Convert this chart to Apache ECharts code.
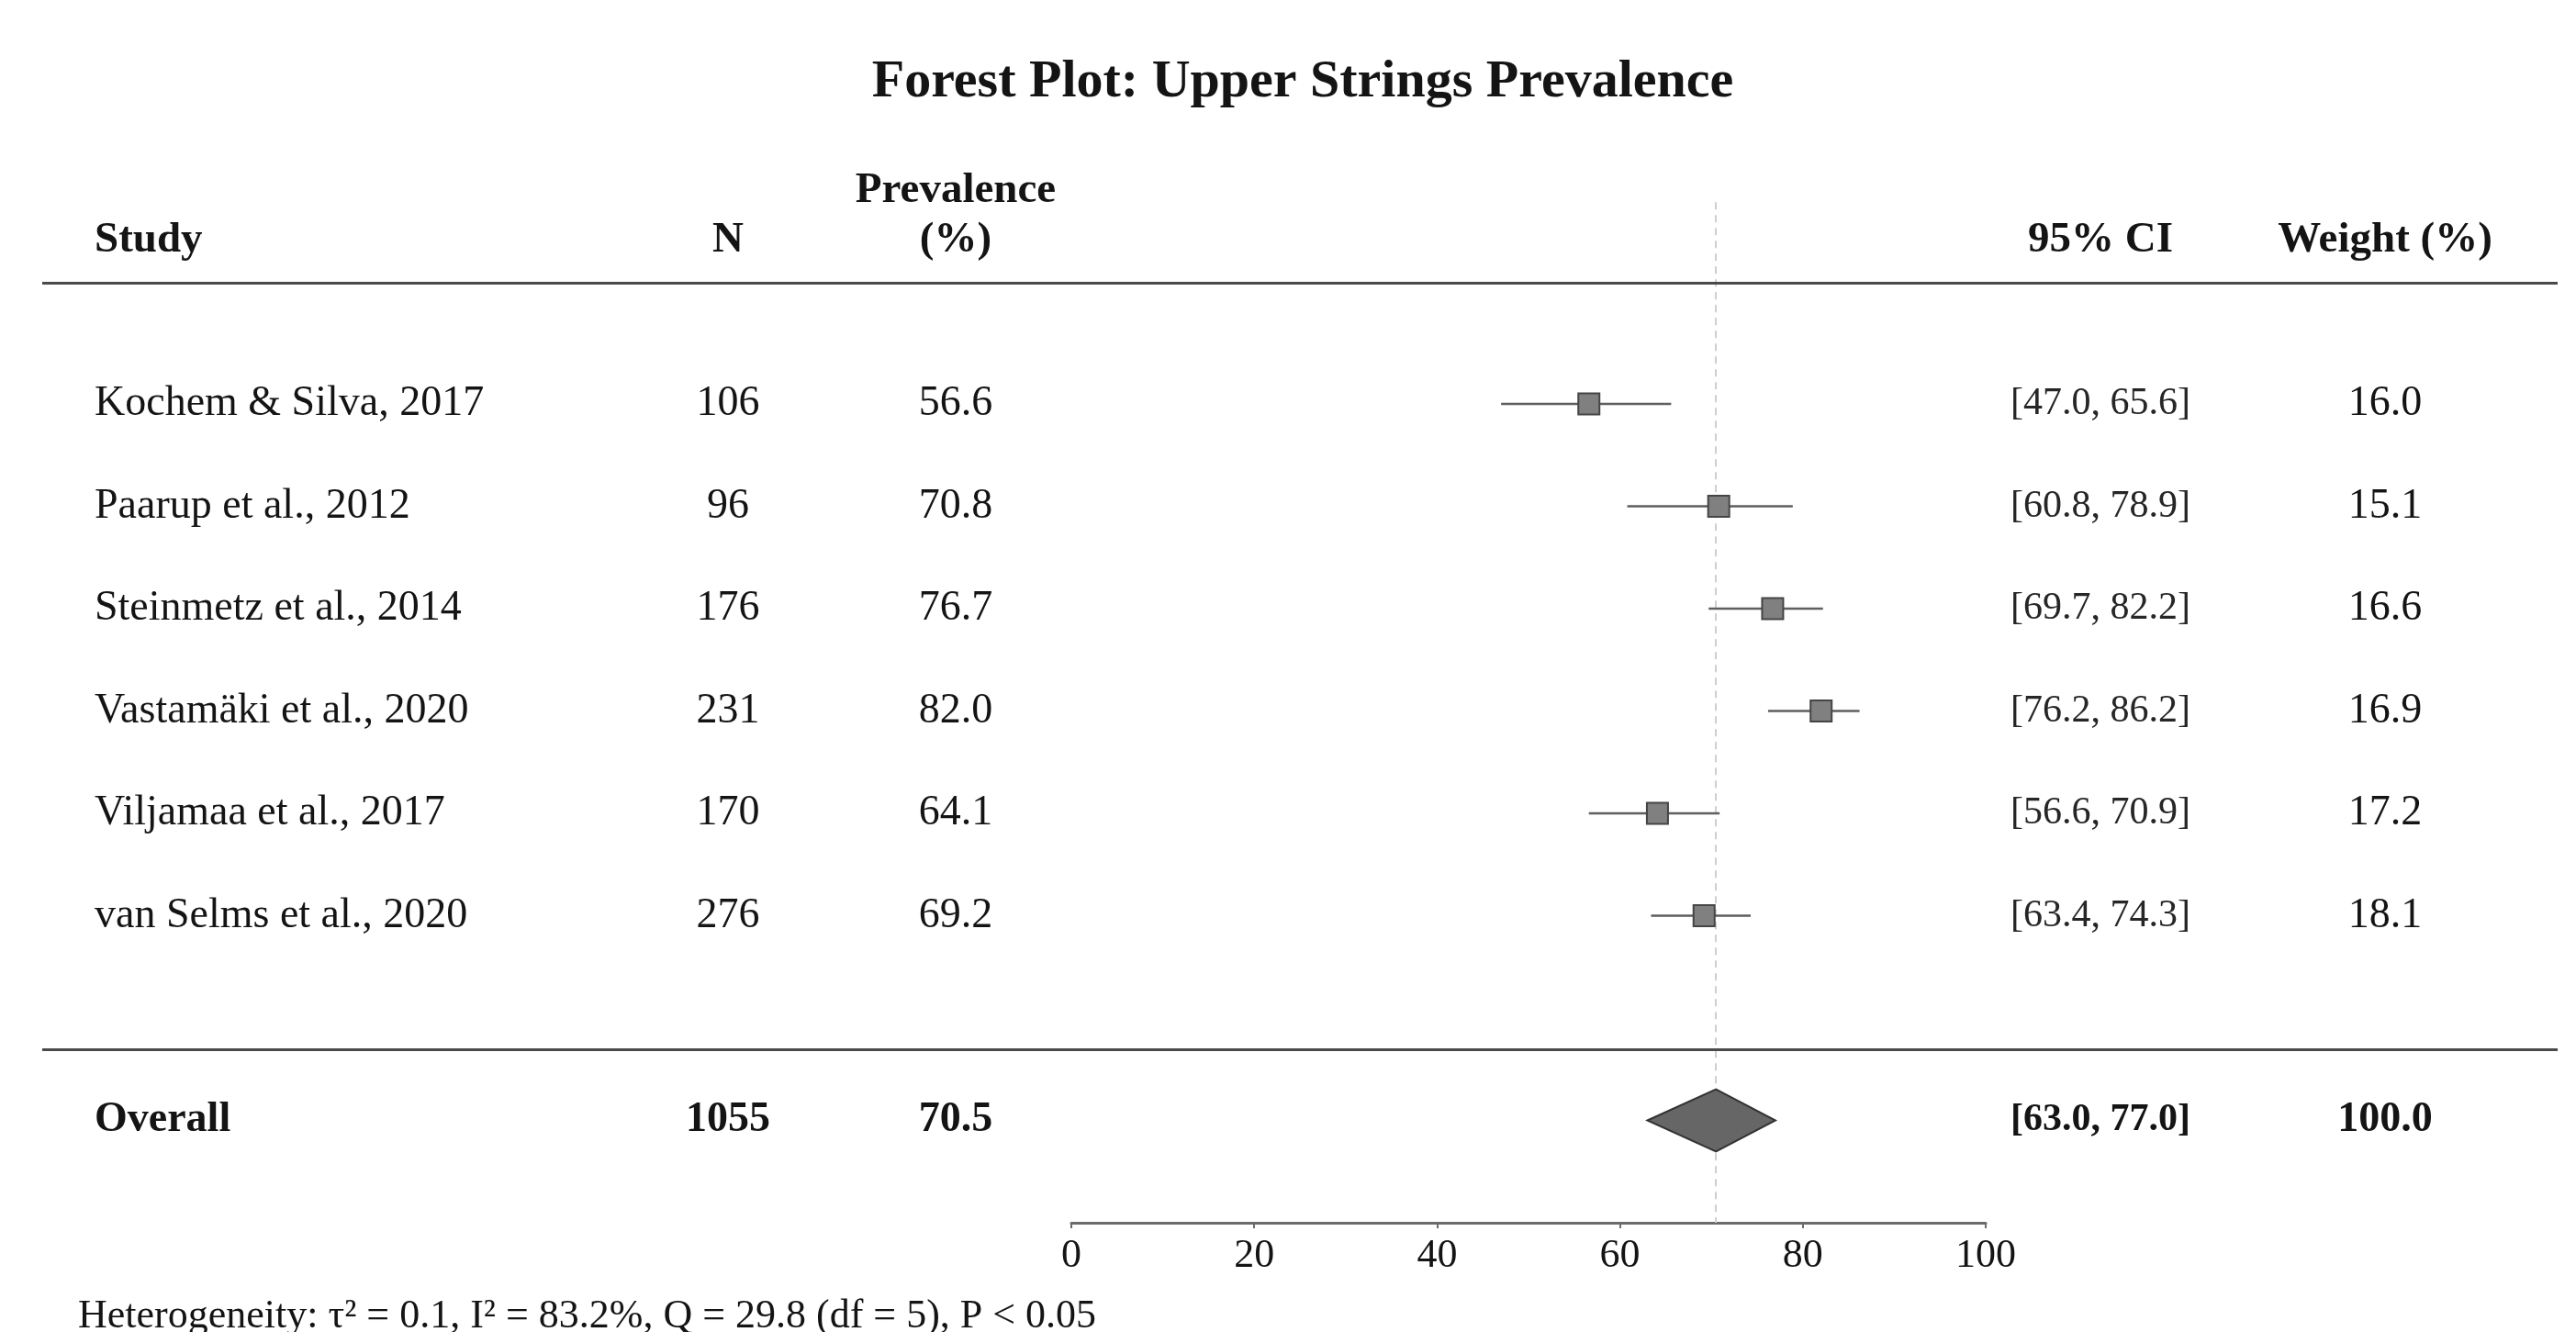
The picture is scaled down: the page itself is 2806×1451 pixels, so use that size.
<!DOCTYPE html>
<html><head><meta charset="utf-8">
<script src="https://cdn.jsdelivr.net/npm/echarts@6/dist/echarts.min.js"></script>
<style>html,body{margin:0;padding:0;background:#fff}#c{width:2806px;height:1451px}</style>
</head><body><div id="c"></div>
<script>
// ---------------- DATA ----------------
const studies = ['Kochem & Silva, 2017', 'Paarup et al., 2012', 'Steinmetz et al., 2014',
  'Vastamäki et al., 2020', 'Viljamaa et al., 2017', 'van Selms et al., 2020'];
const sampleN = [106, 96, 176, 231, 170, 276];
const prevalence = [56.6, 70.8, 76.7, 82.0, 64.1, 69.2];
const ciLower = [47.0, 60.8, 69.7, 76.2, 56.6, 63.4];
const ciUpper = [65.6, 78.9, 82.2, 86.2, 70.9, 74.3];
const weights = [16.0, 15.1, 16.6, 16.9, 17.2, 18.1];
const overallLabel = 'Overall';
const overallN = 1055;
const overallPrev = 70.5;
const overallLower = 63.0;
const overallUpper = 77.0;
const overallWeight = 100.0;
const xTicks = [0, 20, 40, 60, 80, 100];
const headerLabels = ['Study', 'N', 'Prevalence', '(%)', '95% CI', 'Weight (%)'];
const titleText = 'Forest Plot: Upper Strings Prevalence';
const heterogeneityText = 'Heterogeneity: τ² = 0.1, I² = 83.2%, Q = 29.8 (df = 5), P < 0.05';

// ---------------- LAYOUT ----------------
const W = 2806, H = 1451;
const FONT = "'Liberation Serif', 'Times New Roman', serif";
const TXT = '#141414';
const rowPx = 111.5, firstRowY = 440;
const yMin = -2, yMax = 9;
const gridTop = firstRowY - (1 - yMin) * rowPx;
const gridBottomY = firstRowY + (yMax - 1) * rowPx;
const plotLeft = 1167, plotRight = 2163;
const col = { study: 103, n: 793, prev: 1041, ci: 2288, weight: 2598 };
const lineLeft = 46, lineRight = 2786;
const headerRow = -0.6, headerRow2 = -1.08, headerLineRow = -0.184, sepLineRow = 7.305;
const refTopRow = -0.97;
const overallRow = 8;
const studyRows = studies.map((_, i) => i + 1);

const fmt = v => v.toFixed(1);
const ciText = (lo, hi) => '[' + fmt(lo) + ', ' + fmt(hi) + ']';

function textSeries(name, data, align, bold, size, color) {
  return {
    name, type: 'scatter', xAxisIndex: 1, yAxisIndex: 1, symbolSize: 0, silent: true,
    data, z: 5,
    itemStyle: { color: 'transparent', opacity: 1 },
    label: {
      show: true, position: [0, 0], align, verticalAlign: 'middle', opacity: 1,
      formatter: p => p.value[2], fontFamily: FONT, fontSize: size,
      fontWeight: bold ? 'bold' : 'normal', color: color || TXT,
      textBorderWidth: 0, textBorderColor: 'transparent', textShadowBlur: 0
    },
    emphasis: { disabled: true }
  };
}

const bodySize = 46, headSize = 47, ciSize = 42;

const chart = echarts.init(document.getElementById('c'), null, { renderer: 'canvas' });
chart.setOption({
  backgroundColor: '#fff',
  animation: false,
  title: [
    { text: titleText, left: 1414, top: 56, textAlign: 'center',
      textStyle: { fontFamily: FONT, fontSize: 58, fontWeight: 'bold', color: TXT } },
    { text: heterogeneityText, left: 80, top: 1407, textAlign: 'left',
      textStyle: { fontFamily: FONT, fontSize: 44, fontWeight: 'normal', color: TXT } }
  ],
  grid: [
    { left: plotLeft, width: plotRight - plotLeft, top: gridTop, bottom: H - gridBottomY },
    { left: 0, width: W, top: gridTop, bottom: H - gridBottomY }
  ],
  xAxis: [
    { type: 'value', gridIndex: 0, min: xTicks[0], max: xTicks[xTicks.length - 1], interval: xTicks[1] - xTicks[0],
      axisLine: { show: true, onZero: false, lineStyle: { color: '#6b6b6b', width: 3 } },
      axisTick: { show: true, length: 6, lineStyle: { color: '#6b6b6b', width: 2 } },
      splitLine: { show: false },
      axisLabel: { fontFamily: FONT, fontSize: 44, color: TXT, margin: 14 } },
    { type: 'value', gridIndex: 1, min: 0, max: W, show: false }
  ],
  yAxis: [
    { type: 'value', gridIndex: 0, min: yMin, max: yMax, inverse: true, show: false },
    { type: 'value', gridIndex: 1, min: yMin, max: yMax, inverse: true, show: false }
  ],
  series: [
    // separator lines
    { type: 'scatter', xAxisIndex: 1, yAxisIndex: 1, data: [], silent: true,
      markLine: { silent: true, symbol: 'none', label: { show: false },
        lineStyle: { color: '#4a4a4a', width: 3, type: 'solid', opacity: 1 },
        data: [
          [{ coord: [lineLeft, headerLineRow] }, { coord: [lineRight, headerLineRow] }],
          [{ coord: [lineLeft, sepLineRow] }, { coord: [lineRight, sepLineRow] }]
        ] } },
    // reference dashed line at overall estimate
    { type: 'scatter', xAxisIndex: 0, yAxisIndex: 0, data: [], silent: true, z: 1,
      markLine: { silent: true, symbol: 'none', label: { show: false }, z: 1,
        lineStyle: { color: '#cfcfcf', width: 2, type: [8, 6], opacity: 1 },
        data: [[{ coord: [overallPrev, refTopRow] }, { coord: [overallPrev, yMax] }]] } },
    // CI whiskers
    { type: 'custom', xAxisIndex: 0, yAxisIndex: 0, z: 3, silent: true,
      data: studies.map((_, i) => [ciLower[i], ciUpper[i], studyRows[i]]),
      encode: { x: [0, 1], y: 2 },
      renderItem: (params, api) => {
        const a = api.coord([api.value(0), api.value(2)]);
        const b = api.coord([api.value(1), api.value(2)]);
        return { type: 'line', shape: { x1: a[0], y1: a[1], x2: b[0], y2: b[1] },
          style: { stroke: '#5e5e5e', lineWidth: 2.5 } };
      } },
    // point estimates
    { type: 'scatter', xAxisIndex: 0, yAxisIndex: 0, z: 4, silent: true,
      symbol: 'rect', symbolSize: 23,
      itemStyle: { color: '#808080', borderColor: '#454545', borderWidth: 2, opacity: 1 },
      data: prevalence.map((p, i) => [p, studyRows[i]]) },
    // overall diamond
    { type: 'custom', xAxisIndex: 0, yAxisIndex: 0, z: 4, silent: true,
      data: [[overallLower, overallPrev, overallUpper, overallRow]],
      encode: { x: [0, 1, 2], y: 3 },
      renderItem: (params, api) => {
        const y = api.value(3), h = 0.305;
        const l = api.coord([api.value(0), y]);
        const r = api.coord([api.value(2), y]);
        const t = api.coord([api.value(1), y - h]);
        const bt = api.coord([api.value(1), y + h]);
        return { type: 'polygon', shape: { points: [l, t, r, bt] },
          style: { fill: '#666666', stroke: '#333333', lineWidth: 2 } };
      } },
    // table text
    textSeries('hdrLeft', [[col.study, headerRow, headerLabels[0]]], 'left', true, headSize),
    textSeries('hdrCenter', [
      [col.n, headerRow, headerLabels[1]],
      [col.prev, headerRow2, headerLabels[2]],
      [col.prev, headerRow, headerLabels[3]],
      [col.ci, headerRow, headerLabels[4]],
      [col.weight, headerRow, headerLabels[5]]
    ], 'center', true, headSize),
    textSeries('studyNames', studies.map((s, i) => [col.study, studyRows[i], s]), 'left', false, bodySize),
    textSeries('studyNums', [].concat(
      sampleN.map((v, i) => [col.n, studyRows[i], String(v)]),
      prevalence.map((v, i) => [col.prev, studyRows[i], fmt(v)]),
      weights.map((v, i) => [col.weight, studyRows[i], fmt(v)])
    ), 'center', false, bodySize),
    textSeries('studyCI', ciLower.map((v, i) => [col.ci, studyRows[i], ciText(v, ciUpper[i])]),
      'center', false, ciSize, '#262626'),
    textSeries('overallLeft', [[col.study, overallRow, overallLabel]], 'left', true, bodySize),
    textSeries('overallNums', [
      [col.n, overallRow, String(overallN)],
      [col.prev, overallRow, fmt(overallPrev)],
      [col.weight, overallRow, fmt(overallWeight)]
    ], 'center', true, bodySize),
    textSeries('overallCI', [[col.ci, overallRow, ciText(overallLower, overallUpper)]], 'center', true, ciSize)
  ]
});
</script>
</body></html>
